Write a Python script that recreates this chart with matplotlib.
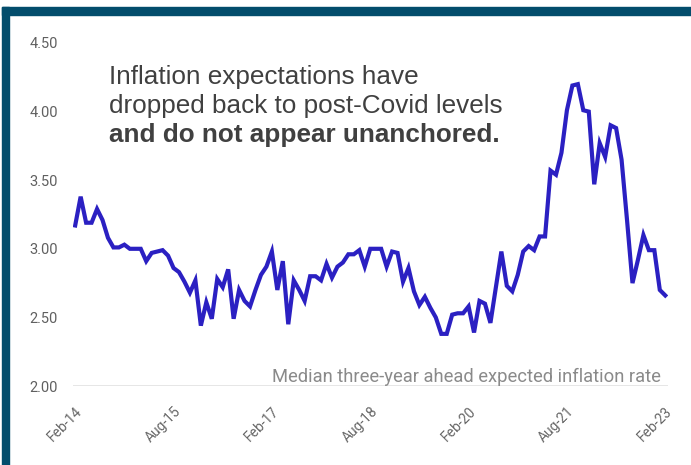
# median three-year ahead expected inflation, monthly Feb-14 .. Feb-23
import pandas as pd
import matplotlib.pyplot as plt
from matplotlib.patches import Rectangle

plt.rcParams['font.family'] = ['Roboto', 'DejaVu Sans']

months = pd.date_range("2014-02-01", "2023-02-01", freq="MS")
expected = [3.17, 3.38, 3.19, 3.19, 3.29, 3.21, 3.08, 3.01, 3.01, 3.03,
            3.00, 3.00, 3.00, 2.91, 2.97, 2.98, 2.99, 2.95, 2.86, 2.83,
            2.76, 2.68, 2.77, 2.44, 2.61, 2.49, 2.78, 2.72, 2.85, 2.49,
            2.70, 2.62, 2.58, 2.70, 2.81, 2.87, 2.98, 2.70, 2.91, 2.45,
            2.77, 2.70, 2.62, 2.80, 2.80, 2.77, 2.89, 2.79, 2.87, 2.90,
            2.96, 2.96, 2.99, 2.87, 3.00, 3.00, 3.00, 2.87, 2.98, 2.97,
            2.76, 2.86, 2.69, 2.59, 2.65, 2.57, 2.50, 2.38, 2.38, 2.52,
            2.53, 2.53, 2.58, 2.39, 2.62, 2.60, 2.46, 2.72, 2.98, 2.73,
            2.69, 2.81, 2.98, 3.02, 2.99, 3.09, 3.09, 3.57, 3.54, 3.70,
            4.01, 4.19, 4.20, 4.01, 4.00, 3.47, 3.77, 3.67, 3.90, 3.88,
            3.65, 3.21, 2.75, 2.92, 3.10, 2.99, 2.99, 2.70, 2.66]
tick_labels = ["Feb-14", "Aug-15", "Feb-17", "Aug-18", "Feb-20", "Aug-21", "Feb-23"]
y_ticks = [2.0, 2.5, 3.0, 3.5, 4.0, 4.5]

x = list(range(len(months)))
tick_pos = [i for i, m in enumerate(months) if m.strftime("%b-%y") in tick_labels]

fig = plt.figure(figsize=(6.91, 4.65), dpi=100)
fig.patch.set_facecolor("white")
ax = fig.add_axes([73/691, 1-386/465, (668-73)/691, (386-43)/465])

ax.plot(x, expected, color="#2b20c2", lw=3, solid_joinstyle="miter")
ax.set_xlim(-0.4, len(x)-1+0.5)
ax.set_ylim(2.0, 4.5)
ax.set_yticks(y_ticks)
ax.set_yticklabels(["%.2f" % v for v in y_ticks], color="#606060", fontsize=10.5)
ax.set_xticks(tick_pos)
ax.set_xticklabels(tick_labels, rotation=45, ha="right", rotation_mode="anchor",
                   color="#666666", fontsize=10)
ax.tick_params(axis="both", length=0)
ax.tick_params(axis="y", pad=11)
ax.tick_params(axis="x", pad=13)
for s in ax.spines.values():
    s.set_visible(False)
ax.axhline(2.0, color="#e2e2e2", lw=1.2, zorder=0)

note_font = ['Liberation Sans', 'DejaVu Sans']
fig.text(109/691, 1-84/465, "Inflation expectations have", fontsize=18.8,
         color="#404040", va="baseline", family=note_font)
fig.text(109/691, 1-113/465, "dropped back to post-Covid levels", fontsize=18.8,
         color="#404040", va="baseline", family=note_font)
fig.text(109/691, 1-142/465, "and do not appear unanchored.", fontsize=18.8,
         color="#404040", va="baseline", fontweight="bold", family=note_font)
fig.text(661/691, 1-382/465, "Median three-year ahead expected inflation rate",
         fontsize=13.2, color="#8a8a8a", ha="right", va="baseline")

# dark frame on top and left
fig.patches.append(Rectangle((2/691, 1-15/465), 1, 8/465, transform=fig.transFigure,
                             color="#034d6c", zorder=5))
fig.patches.append(Rectangle((2/691, 0), 7/691, 1-7/465, transform=fig.transFigure,
                             color="#034d6c", zorder=5))

fig.savefig("out.png", dpi=100)
